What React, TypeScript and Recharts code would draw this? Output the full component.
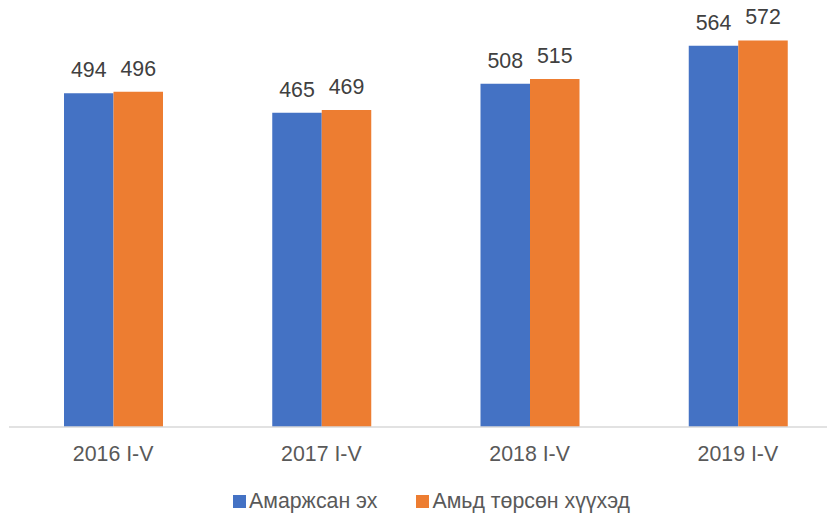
import React from 'react';
import { BarChart, Bar, XAxis, YAxis, Legend, LabelList } from 'recharts';

const periods = ['2016 I-V', '2017 I-V', '2018 I-V', '2019 I-V'];
const mothers = [494, 465, 508, 564];
const births = [496, 469, 515, 572];
const seriesNames = ['Амаржсан эх', 'Амьд төрсөн хүүхэд'];
const COLORS = ['#4472C4', '#ED7D31'];

const FONT = '"Liberation Sans", Arial, sans-serif';
const FS = 21.33;

const data = periods.map((p, i) => ({
  period: p,
  mothers: mothers[i],
  births: births[i],
}));

const LegendBox = () => (
  <div
    style={{
      width: 833,
      height: 24,
      display: 'flex',
      alignItems: 'center',
      paddingLeft: 224,
      boxSizing: 'border-box',
      fontFamily: FONT,
      fontSize: FS,
      color: '#595959',
      whiteSpace: 'nowrap',
    }}
  >
    {seriesNames.map((name, i) => (
      <div key={name} style={{ display: 'flex', alignItems: 'center', marginRight: i === 0 ? 39 : 0 }}>
        <span style={{ width: 13, height: 13, background: COLORS[i], marginRight: 3, display: 'inline-block' }} />
        <span>{name}</span>
      </div>
    ))}
  </div>
);

const App = () => {
  return (
    <div style={{ width: 827, height: 513, marginTop: -8, overflow: 'hidden' }}>
      <BarChart
        width={835}
        height={513}
        data={data}
        margin={{ top: 8, right: 1, bottom: 0, left: 1 }}
        barGap={0}
      >
        <XAxis
          dataKey="period"
          height={62}
          tickLine={false}
          axisLine={{ stroke: '#d9d9d9', strokeWidth: 1.3 }}
          tickMargin={13}
          tick={{ fill: '#595959', fontSize: FS, fontFamily: FONT }}
        />
        <YAxis hide domain={[0, 620]} allowDataOverflow />
        <Legend verticalAlign="bottom" content={() => <LegendBox />} />
        <Bar dataKey="mothers" name={seriesNames[0]} fill={COLORS[0]} barSize={49.5} isAnimationActive={false}>
          <LabelList dataKey="mothers" position="top" offset={16} fill="#404040" fontSize={FS} fontFamily={FONT} />
        </Bar>
        <Bar dataKey="births" name={seriesNames[1]} fill={COLORS[1]} barSize={49.5} isAnimationActive={false}>
          <LabelList dataKey="births" position="top" offset={16} fill="#404040" fontSize={FS} fontFamily={FONT} />
        </Bar>
      </BarChart>
    </div>
  );
};

export default App;
